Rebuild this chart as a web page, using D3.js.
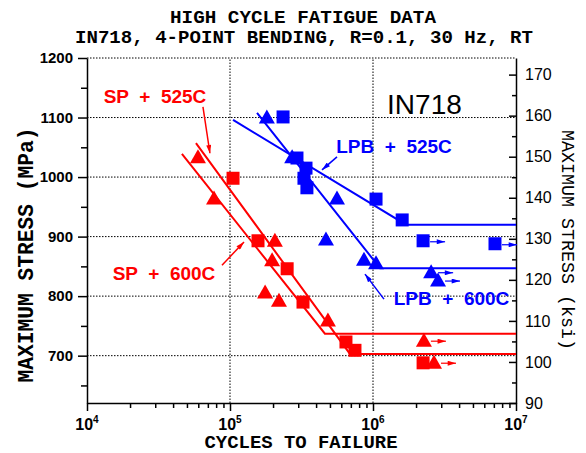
<!DOCTYPE html>
<html>
<head>
<meta charset="utf-8">
<script src="https://cdn.jsdelivr.net/npm/d3@7"></script>
<style>
body{margin:0;background:#fff}
text{white-space:pre}
</style>
</head>
<body>
<div id="chart"></div>
<script>
// cycles to failure / max stress (MPa), runout = test stopped without failure
const sp525 = [
	{n:105000, s:998}, {n:157000, s:893}, {n:251000, s:846}, {n:324000, s:790},
	{n:647000, s:723}, {n:748000, s:709}, {n:2240000, s:688}
]
const sp600 = [
	{n:59700, s:1034}, {n:77300, s:965}, {n:206000, s:894}, {n:197000, s:861},
	{n:176000, s:807}, {n:220000, s:793}, {n:484000, s:760},
	{n:2270000, s:726, runout:true}, {n:2670000, s:689, runout:true}
]
const lpb525 = [
	{n:235000, s:1101}, {n:294000, s:1032}, {n:340000, s:1015}, {n:329000, s:998},
	{n:345000, s:982}, {n:1050000, s:963}, {n:1600000, s:928},
	{n:2240000, s:893, runout:true}, {n:7130000, s:888, runout:true}
]
const lpb600 = [
	{n:181000, s:1101}, {n:272000, s:1034}, {n:560000, s:965}, {n:469000, s:896},
	{n:865000, s:862}, {n:1050000, s:856},
	{n:2550000, s:841, runout:true}, {n:2850000, s:827, runout:true}
]
// fitted S-N curves with endurance limit
const sp525Fit = [[57800,1057],[690000,703],[1e7,703]]
const sp600Fit = [[46100,1039],[461000,737],[1e7,737]]
const lpb525Fit = [[105000,1096],[1700000,920],[1e7,920]]
const lpb600Fit = [[154500,1108],[1120000,847],[1e7,847]]

const mpaMajor = [700,800,900,1000,1100,1200]
const mpaMinor = [650,750,850,950,1050,1150]
const ksiMajor = [90,100,110,120,130,140,150,160,170]
const ksiMinor = [95,105,115,125,135,145,155,165]
const cycleExp = [4,5,6,7]

// annotation text anchored in data units
const labels = [
	{text:'SP  +  525C', n:29900, s:1124, color:'#ff0000'},
	{text:'SP  +  600C', n:34560, s:827, color:'#ff0000'},
	{text:'LPB  +  525C', n:1403000, s:1040, color:'#0000ff'},
	{text:'LPB  +  600C', n:3540000, s:785, color:'#0000ff'}
]
const pointers = [
	{from:[64700,1118], to:[72400,1040], color:'#ff0000'},
	{from:[87900,852], to:[125300,891], color:'#ff0000'},
	{from:[560000,1034], to:[440000,1012], color:'#0000ff'},
	{from:[1194000,795], to:[879000,837], color:'#0000ff'}
]

const width = 586, height = 453
const svg = d3.select('#chart').append('svg')
	.attr('width',width).attr('height',height)
svg.append('rect').attr('width',width).attr('height',height).attr('fill','#fff')

const x = d3.scaleLog().domain([1e4,1e7]).range([87,516])
const y = d3.scaleLinear().domain([620.5,1200]).range([403,58])
const yk = d3.scaleLinear().domain([90,1200/6.894757]).range([403,58])

const defs = svg.append('defs')
;['#ff0000','#0000ff'].forEach(function(c){
	defs.append('marker').attr('id','head'+c.slice(1))
		.attr('viewBox','0 0 10 6').attr('refX',10).attr('refY',3)
		.attr('markerUnits','userSpaceOnUse')
		.attr('markerWidth',9).attr('markerHeight',5).attr('orient','auto')
		.append('path').attr('d','M0,0L10,3L0,6Z').attr('fill',c)
})

// grid
const grid = svg.append('g').attr('stroke','#000').attr('stroke-width',1).attr('stroke-dasharray','1.5,1.5')
grid.selectAll('.gv').data([1e5,1e6]).join('line')
	.attr('x1',d=>x(d)).attr('x2',d=>x(d)).attr('y1',y.range()[0]).attr('y2',y.range()[1])
grid.selectAll('.gh').data(mpaMajor).join('line')
	.attr('x1',x.range()[0]).attr('x2',x.range()[1]).attr('y1',d=>y(d)).attr('y2',d=>y(d))

// axes
function styleAxis(g){
	g.selectAll('path,line').attr('stroke','#000').attr('stroke-width',1.5)
}
svg.append('g').attr('transform','translate(87,0)')
	.call(d3.axisLeft(y).tickValues(mpaMajor).tickSize(9).tickPadding(5).tickSizeOuter(0).tickFormat(d3.format('d')))
	.call(styleAxis)
	.call(g=>g.selectAll('text').attr('font-family','Liberation Sans, Arial').attr('font-weight','bold').attr('font-size',15).attr('fill','#000'))
svg.append('g').attr('transform','translate(87,0)')
	.call(d3.axisLeft(y).tickValues(mpaMinor).tickSize(6).tickFormat(''))
	.call(styleAxis).call(g=>g.select('.domain').remove())

svg.append('g').attr('transform','translate(516,0)')
	.call(d3.axisRight(yk).tickValues(ksiMajor).tickSize(-7).tickPadding(9).tickSizeOuter(0))
	.call(styleAxis)
	.call(g=>g.selectAll('text').attr('font-family','Liberation Sans, Arial').attr('font-size',16).attr('fill','#000'))
svg.append('g').attr('transform','translate(516,0)')
	.call(d3.axisRight(yk).tickValues(ksiMinor).tickSize(-4).tickFormat(''))
	.call(styleAxis).call(g=>g.select('.domain').remove())

const minorCycles = []
cycleExp.slice(0,-1).forEach(function(k){
	for(let m=2;m<10;m++) minorCycles.push(m*Math.pow(10,k))
})
svg.append('g').attr('transform','translate(0,403)')
	.call(d3.axisBottom(x).tickValues(cycleExp.map(k=>Math.pow(10,k))).tickSize(8).tickSizeOuter(0).tickFormat(''))
	.call(styleAxis)
svg.append('g').attr('transform','translate(0,403)')
	.call(d3.axisBottom(x).tickValues(minorCycles).tickSize(5).tickFormat(''))
	.call(styleAxis).call(g=>g.select('.domain').remove())

const xl = svg.append('g').selectAll('text').data(cycleExp).join('text')
	.attr('x',d=>x(Math.pow(10,d))).attr('y',430)
	.attr('text-anchor','middle')
	.attr('font-family','Liberation Sans, Arial').attr('font-weight','bold').attr('font-size',16)
xl.append('tspan').text('10')
xl.append('tspan').attr('dy',-7).attr('font-size',10).text(d=>d)

// fitted lines
const line = d3.line().x(d=>x(d[0])).y(d=>y(d[1]))
const fits = [[sp525Fit,'#ff0000'],[sp600Fit,'#ff0000'],[lpb525Fit,'#0000ff'],[lpb600Fit,'#0000ff']]
svg.append('g').selectAll('path').data(fits).join('path')
	.attr('d',d=>line(d[0])).attr('fill','none').attr('stroke',d=>d[1]).attr('stroke-width',2)

// markers
const series = [
	{data:sp525, color:'#ff0000', shape:'square'},
	{data:sp600, color:'#ff0000', shape:'triangle'},
	{data:lpb525, color:'#0000ff', shape:'square'},
	{data:lpb600, color:'#0000ff', shape:'triangle'}
]
series.forEach(function(sr){
	const g = svg.append('g')
	g.selectAll('path.pt').data(sr.data).join('path').attr('class','pt')
		.attr('transform',d=>`translate(${x(d.n)},${y(d.s)})`)
		.attr('d',sr.shape === 'square' ? 'M-6.5,-6.5H6.5V6.5H-6.5Z' : 'M0,-7.5L8,6.5L-8,6.5Z')
		.attr('fill',sr.color)
	g.selectAll('line.run').data(sr.data.filter(d=>d.runout)).join('line').attr('class','run')
		.attr('x1',d=>x(d.n)+7).attr('x2',d=>x(d.n)+22)
		.attr('y1',d=>y(d.s)+1).attr('y2',d=>y(d.s)+1)
		.attr('stroke',sr.color).attr('stroke-width',1.2)
		.attr('marker-end',`url(#head${sr.color.slice(1)})`)
})

// annotations
svg.append('g').selectAll('line').data(pointers).join('line')
	.attr('x1',d=>x(d.from[0])).attr('y1',d=>y(d.from[1]))
	.attr('x2',d=>x(d.to[0])).attr('y2',d=>y(d.to[1]))
	.attr('stroke',d=>d.color).attr('stroke-width',1.5)
	.attr('marker-end',d=>`url(#head${d.color.slice(1)})`)
svg.append('g').selectAll('text').data(labels).join('text')
	.attr('x',d=>x(d.n)).attr('y',d=>y(d.s))
	.attr('text-anchor','middle').attr('fill',d=>d.color)
	.attr('font-family','Liberation Sans, Arial').attr('font-weight','bold').attr('font-size',19)
	.text(d=>d.text)
svg.append('text').attr('x',x(2290000)).attr('y',y(1106))
	.attr('text-anchor','middle').attr('font-family','Liberation Sans, Arial').attr('font-size',28)
	.text('IN718')

// titles
const mono = 'Liberation Mono, DejaVu Sans Mono, monospace'
svg.append('text').attr('x',303).attr('y',23).attr('text-anchor','middle')
	.attr('font-family',mono).attr('font-weight','bold').attr('font-size',19)
	.attr('textLength',266).attr('lengthAdjust','spacingAndGlyphs')
	.text('HIGH CYCLE FATIGUE DATA')
svg.append('text').attr('x',304).attr('y',43).attr('text-anchor','middle')
	.attr('font-family',mono).attr('font-weight','bold').attr('font-size',19)
	.attr('textLength',458).attr('lengthAdjust','spacingAndGlyphs')
	.text('IN718, 4-POINT BENDING, R=0.1, 30 Hz, RT')
svg.append('text').attr('x',301).attr('y',448).attr('text-anchor','middle')
	.attr('font-family',mono).attr('font-weight','bold').attr('font-size',19)
	.attr('textLength',193).attr('lengthAdjust','spacingAndGlyphs')
	.text('CYCLES TO FAILURE')
svg.append('text').attr('transform','translate(33,255) rotate(-90)').attr('text-anchor','middle')
	.attr('font-family',mono).attr('font-weight','bold').attr('font-size',22)
	.attr('textLength',255).attr('lengthAdjust','spacingAndGlyphs')
	.text('MAXIMUM STRESS (MPa)')
svg.append('text').attr('transform','translate(562,240) rotate(90)').attr('text-anchor','middle')
	.attr('font-family',mono).attr('font-size',19)
	.attr('textLength',220).attr('lengthAdjust','spacingAndGlyphs')
	.text('MAXIMUM STRESS (ksi)')
</script>
</body>
</html>
